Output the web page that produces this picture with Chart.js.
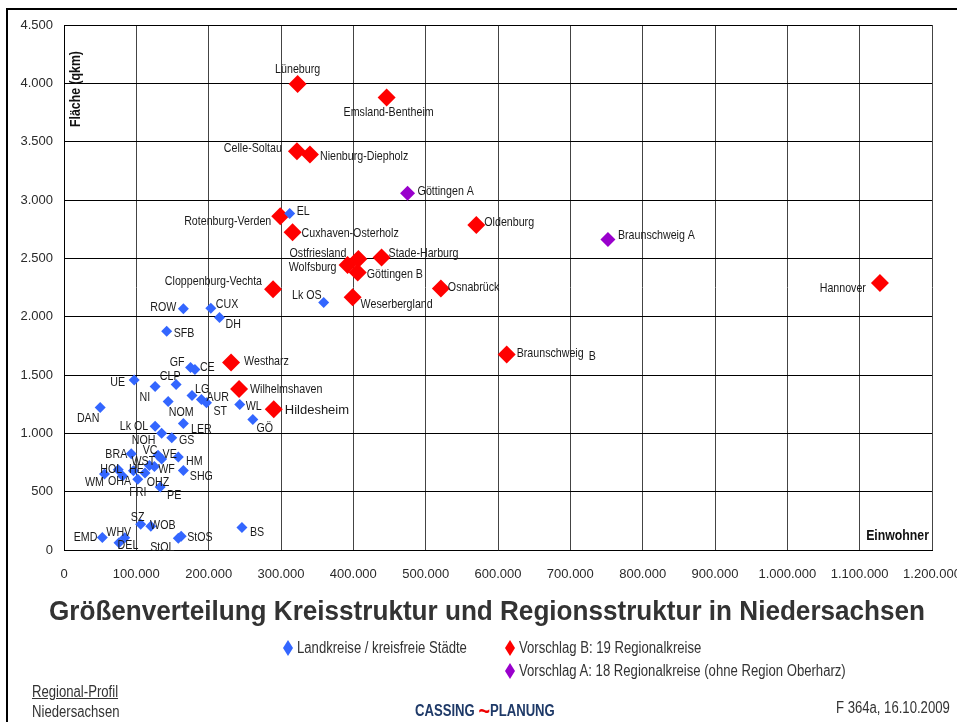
<!DOCTYPE html>
<html><head><meta charset="utf-8">
<script src="https://cdn.jsdelivr.net/npm/chart.js@4/dist/chart.umd.min.js"></script>
<style>
html,body{margin:0;padding:0;background:#fff;width:957px;height:722px;overflow:hidden;}
#wrap{position:relative;width:957px;height:722px;overflow:hidden;font-family:'Liberation Sans',Arial,sans-serif;}
#c{position:absolute;left:0;top:0;}
#frame{position:absolute;left:6px;top:8px;width:1000px;height:800px;border-top:2px solid #000;border-left:2px solid #000;pointer-events:none;}
#title{position:absolute;left:487px;top:594px;font-weight:bold;font-size:28px;line-height:34px;color:#333;white-space:nowrap;transform-origin:0 0;}
.n{position:absolute;white-space:nowrap;transform:scaleX(0.82);transform-origin:0 50%;font-size:16px;line-height:18px;color:#333;}
.nr{transform-origin:100% 50%;}
.dm{position:absolute;width:10px;height:16px;clip-path:polygon(50% 0,100% 50%,50% 100%,0 50%);}
</style></head>
<body><div id="wrap">
<canvas id="c" width="957" height="600"></canvas>
<div id="frame"></div>
<div id="title">Größenverteilung Kreisstruktur und Regionsstruktur in Niedersachsen</div>
<div id="legend"></div>
<div class="n" style="left:32px;top:683px;text-decoration:underline;">Regional-Profil</div>
<div class="n" style="left:32px;top:703px;">Niedersachsen</div>
<div class="n" style="left:415px;top:699px;font-weight:bold;color:#1f3a68;">CASSING <span style="color:#e00;font-size:24px;position:relative;top:3px;">~</span>PLANUNG</div>
<div class="n nr" style="right:7px;top:699px;">F 364a, 16.10.2009</div>
</div>
<script>
// ---------- data ----------
const blueNames = ['EL','ROW','CUX','DH','SFB','Lk OS','GF','CE','UE','CLP','NI','LG','AUR','ST','NOM','WL','DAN','GÖ','LER','Lk OL','NOH','GS','BRA','VC','VE','HM','SHG','WST','WF','HE','HOL','WM','OHA','FRI','OHZ','PE','SZ','WOB','EMD','WHV','DEL','StOL','StOS','BS'];
const bluePop = [312000,165000,203000,215000,142000,359000,175000,181000,97000,155000,126000,177000,190000,197000,144000,243000,50000,261000,165000,126000,135000,149000,93000,130000,135000,158000,165000,118000,125000,96000,75000,56000,81000,102000,112000,133000,106000,120000,53000,84000,76000,158000,162000,246000];
const blueArea = [2885,2068,2073,1993,1875,2122,1564,1547,1458,1418,1401,1324,1290,1262,1273,1247,1221,1118,1085,1060,1000,963,826,812,780,797,682,725,715,680,688,652,635,607,660,540,220,204,108,106,62,100,117,193];

const redNames = ['Lüneburg','Emsland-Bentheim','Celle-Soltau','Nienburg-Diepholz','Rotenburg-Verden','Cuxhaven-Osterholz','Oldenburg','Ostfriesland','Wolfsburg','Göttingen B','Stade-Harburg','Cloppenburg-Vechta','Weserbergland','Osnabrück','Hannover','Braunschweig B','Westharz','Wilhelmshaven','Hildesheim'];
const redPop = [323000,446000,322000,340000,299000,316000,570000,407000,392000,406000,439000,289000,399000,521000,1128000,612000,231000,242000,290000];
const redArea = [3995,3878,3418,3390,2860,2723,2785,2494,2443,2378,2508,2234,2166,2242,2288,1675,1608,1380,1206];

const purpleNames = ['Göttingen A','Braunschweig A'];
const purplePop = [475000,752000];
const purpleArea = [3057,2661];

const seriesNames = ['Landkreise / kreisfreie Städte','Vorschlag B: 19 Regionalkreise','Vorschlag A: 18 Regionalkreise (ohne Region Oberharz)'];
const xTickValues = [0,100000,200000,300000,400000,500000,600000,700000,800000,900000,1000000,1100000,1200000];
const xTickLabels = ['0','100.000','200.000','300.000','400.000','500.000','600.000','700.000','800.000','900.000','1.000.000','1.100.000','1.200.000'];
const yTickValues = [0,500,1000,1500,2000,2500,3000,3500,4000,4500];
const yTickLabels = ['0','500','1.000','1.500','2.000','2.500','3.000','3.500','4.000','4.500'];
const xAxisTitle = 'Einwohner';
const yAxisTitle = 'Fläche (qkm)';

// ---------- label placement (align, dx, dy in px relative to marker) ----------
const labelPlacement = {
 'Lüneburg':['center',0,-14],'Emsland-Bentheim':['center',2,15],'Celle-Soltau':['right',-15,-3],
 'Nienburg-Diepholz':['left',10,2],'Rotenburg-Verden':['right',-9,5],'Cuxhaven-Osterholz':['left',9,1],
 'Oldenburg':['left',8,-3],'Ostfriesland':['right',-12,-6],'Wolfsburg':['right',-11,2],
 'Göttingen B':['left',9,2],'Stade-Harburg':['left',7,-4],'Cloppenburg-Vechta':['right',-11,-8],
 'Weserbergland':['left',8,7],'Osnabrück':['left',7,-1],'Hannover':['right',-14,5],
 'Braunschweig B':['left',10,-1],'Westharz':['left',13,-1],'Wilhelmshaven':['left',11,0],'Hildesheim':['left',11,1],
 'Göttingen A':['left',10,-2],'Braunschweig A':['left',10,-4],
 'EL':['left',7,-2],'ROW':['right',-7,-1],'CUX':['left',5,-4],'DH':['left',6,7],'SFB':['left',7,2],
 'Lk OS':['right',-2,-7],'GF':['right',-6,-5],'CE':['left',5,-2],'UE':['right',-9,3],'CLP':['center',-6,-8],
 'NI':['right',-5,11],'LG':['left',3,-6],'AUR':['left',5,-2],'ST':['left',7,9],'NOM':['center',13,11],
 'WL':['left',6,2],'DAN':['center',-12,11],'GÖ':['center',12,9],'LER':['center',18,6],'Lk OL':['right',-7,0],
 'NOH':['center',-18,7],'GS':['center',15,3],'BRA':['right',-4,1],'VC':['center',-8,-5],'VE':['center',8,-5],
 'HM':['center',16,4],'SHG':['center',18,6],'WST':['center',-6,-4],'WF':['center',12,3],'HE':['center',3,-1],
 'HOL':['center',-7,0],'WM':['center',-10,8],'OHA':['center',-3,6],'FRI':['center',0,13],'OHZ':['center',13,9],
 'PE':['center',14,8],'SZ':['center',-3,-7],'WOB':['center',12,-1],'EMD':['right',-5,0],'WHV':['center',-6,-5],
 'DEL':['center',9,3],'StOL':['center',-16,9],'StOS':['left',6,1],'BS':['left',8,5]
};

const SANS = "'Liberation Sans', Arial, sans-serif";
const NARROW_SCALE = 0.82;
const toPts = (xs, ys) => xs.map((v, i) => ({x: v, y: ys[i]}));

function narrowText(ctx, text, x, y, align, font, scale) {
  ctx.save();
  ctx.font = font;
  ctx.textAlign = align;
  ctx.textBaseline = 'middle';
  ctx.translate(x, y);
  ctx.scale(scale, 1);
  ctx.fillText(text, 0, 0);
  ctx.restore();
}

const labelPlugin = {
  id: 'pointLabels',
  afterDatasetsDraw(chart) {
    const ctx = chart.ctx;
    chart.data.datasets.forEach((ds, di) => {
      const meta = chart.getDatasetMeta(di);
      meta.data.forEach((pt, i) => {
        const name = ds.names[i];
        const p = labelPlacement[name] || ['left', 8, 0];
        ctx.fillStyle = '#1a1a1a';
        if (name === 'Hildesheim') {
          narrowText(ctx, name, pt.x + p[1], pt.y + p[2], p[0], '13px ' + SANS, 1);
        } else if (name === 'Braunschweig B') {
          const f = '13px ' + SANS;
          ctx.font = f;
          const w = ctx.measureText('Braunschweig').width * NARROW_SCALE;
          narrowText(ctx, 'Braunschweig', pt.x + p[1], pt.y + p[2], 'left', f, NARROW_SCALE);
          narrowText(ctx, 'B', pt.x + p[1] + w + 5, pt.y + p[2] + 3, 'left', f, NARROW_SCALE);
        } else {
          narrowText(ctx, name, pt.x + p[1], pt.y + p[2], p[0], '13px ' + SANS, NARROW_SCALE);
        }
      });
    });
    const a = chart.chartArea;
    ctx.fillStyle = '#111';
    narrowText(ctx, xAxisTitle, a.right - 3, a.bottom - 14, 'right', 'bold 15px ' + SANS, NARROW_SCALE);
    ctx.save();
    ctx.translate(a.left + 12, a.top + 64);
    ctx.rotate(-Math.PI / 2);
    narrowText(ctx, yAxisTitle, 0, 0, 'center', 'bold 15px ' + SANS, NARROW_SCALE);
    ctx.restore();
  }
};

const chart = new Chart(document.getElementById('c'), {
  type: 'scatter',
  data: {
    datasets: [
      {label: seriesNames[0], names: blueNames, data: toPts(bluePop, blueArea), pointStyle: 'rectRot', pointRadius: 5.5, backgroundColor: '#3366ff', borderWidth: 0},
      {label: seriesNames[1], names: redNames, data: toPts(redPop, redArea), pointStyle: 'rectRot', pointRadius: 9, backgroundColor: '#ff0000', borderWidth: 0},
      {label: seriesNames[2], names: purpleNames, data: toPts(purplePop, purpleArea), pointStyle: 'rectRot', pointRadius: 7.5, backgroundColor: '#9900cc', borderWidth: 0}
    ]
  },
  options: {
    responsive: false, animation: false, events: [],
    layout: {padding: {left: 0, top: 25, right: 25, bottom: 10}},
    plugins: {legend: {display: false}, tooltip: {enabled: false}},
    scales: {
      x: {
        type: 'linear', min: 0, max: 1200000,
        afterBuildTicks: s => { s.ticks = xTickValues.map(v => ({value: v})); },
        afterFit: s => { s.height = 40; s.paddingLeft = 0; s.paddingRight = 0; },
        ticks: {callback: (v, i) => xTickLabels[i], color: '#2a2a2a', font: {family: SANS, size: 13}, padding: 17, maxRotation: 0, autoSkip: false},
        grid: {color: '#444', lineWidth: 1, drawTicks: false},
        border: {color: '#000', width: 1}
      },
      y: {
        type: 'linear', min: 0, max: 4500,
        afterBuildTicks: s => { s.ticks = yTickValues.map(v => ({value: v})); },
        afterFit: s => { s.width = 64; },
        ticks: {callback: (v, i) => yTickLabels[i], color: '#2a2a2a', font: {family: SANS, size: 13}, padding: 11, autoSkip: false},
        grid: {color: '#000', lineWidth: 1, drawTicks: false},
        border: {color: '#000', width: 1}
      }
    }
  },
  plugins: [labelPlugin]
});

// title: condensed to the reference width, centred
const title = document.getElementById('title');
const tw = title.getBoundingClientRect().width;
const ts = 876 / tw;
title.style.transform = 'translateX(' + (-438) + 'px) scaleX(' + ts + ')';

// HTML legend built from the datasets
const legendPos = [[288, 648], [510, 648], [510, 671]];
const lg = document.getElementById('legend');
chart.data.datasets.forEach((ds, i) => {
  const [cx, cy] = legendPos[i];
  const d = document.createElement('div');
  d.className = 'dm';
  d.style.left = (cx - 5) + 'px'; d.style.top = (cy - 8) + 'px'; d.style.background = ds.backgroundColor;
  lg.appendChild(d);
  const t = document.createElement('div');
  t.className = 'n';
  t.style.left = (cx + 9) + 'px'; t.style.top = (cy - 9) + 'px';
  t.textContent = ds.label;
  lg.appendChild(t);
});
</script>
</body></html>
